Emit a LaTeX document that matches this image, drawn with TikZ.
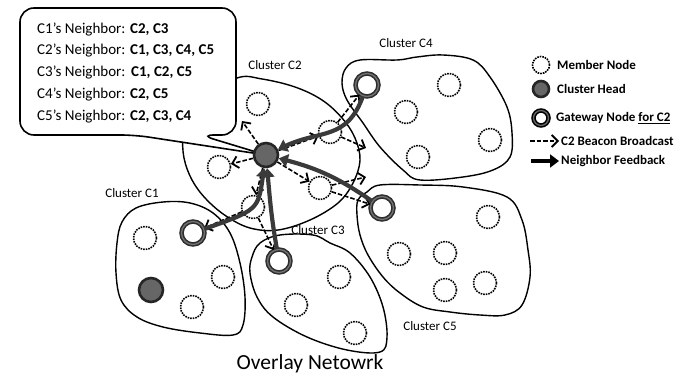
\documentclass[tikz,border=0pt]{standalone}
\usepackage{fontspec}
\setmainfont{Carlito}
\usetikzlibrary{arrows.meta}
\definecolor{fbgray}{HTML}{3A3A3A}
\definecolor{headgray}{HTML}{666666}
\tikzset{
  cluster/.style={draw,line width=1.4pt},
  callout/.style={draw,fill=white,line width=1.6pt,rounded corners=14pt},
  member/.style={circle,draw,line width=1.6pt,dash pattern=on 1.6pt off 1pt,
    minimum size=23pt,inner sep=0pt},
  head/.style={circle,draw=black!85,fill=headgray,line width=2.6pt,
    minimum size=24pt,inner sep=0pt},
  gateway/.style={circle,draw=black!82,double=black!55,line width=1.6pt,
    double distance=1.3pt,fill=white,minimum size=23pt,inner sep=0pt},
  beacon/.style={line width=1.6pt,dash pattern=on 4.5pt off 2pt,
    -{Straight Barb[length=6pt,width=12pt,line width=1.8pt]}},
  feedback/.style={draw=fbgray,line width=4.2pt,-{Triangle[length=9pt,width=13pt]}},
  clabel/.style={inner sep=0pt,font=\fontsize{13}{15}\selectfont},
  ntext/.style={anchor=west,inner sep=0pt,font=\fontsize{15}{18}\selectfont},
  nval/.style={anchor=west,inner sep=0pt,font=\fontsize{15}{18}\selectfont\bfseries},
  ltext/.style={anchor=west,inner sep=0pt,font=\fontsize{13}{15}\selectfont\bfseries}
}
\begin{document}
\begin{tikzpicture}[x=1pt,y=-1pt]
  \useasboundingbox (0,0) rectangle (682,379);
  %% cluster outlines
  \draw[cluster] plot[smooth cycle,tension=0.6] coordinates {(200,100) (237,78) (262,79)
    (295,87) (322,100) (342,118) (355,138) (360,160) (353,183) (338,203) (310,220)
    (278,230) (250,228) (226,216) (206,199) (192,180) (184,158) (183,135) (188,112)};
  \draw[cluster] plot[smooth cycle,tension=0.6] coordinates {(116,273) (117,243) (122,222)
    (136,208) (163,202) (190,203) (213,213) (230,233) (240,263) (245,297) (243,325)
    (233,335) (200,333) (163,327) (137,317) (121,300)};
  \draw[cluster] plot[smooth cycle,tension=0.6] coordinates {(252,257) (260,243) (280,235)
    (313,235) (330,243) (350,253) (370,277) (383,307) (387,337) (380,352) (347,350)
    (307,337) (273,317) (257,297) (250,273)};
  \draw[cluster] plot[smooth cycle,tension=0.6] coordinates {(342,83) (346,68) (360,60)
    (397,60) (417,57) (443,55) (473,60) (490,77) (507,107) (512,133) (510,157)
    (493,170) (463,177) (420,180) (403,170) (380,147) (363,123) (347,100)};
  \draw[cluster] plot[smooth cycle,tension=0.6] coordinates {(358,200) (367,192) (380,185)
    (420,185) (463,187) (507,197) (522,220) (528,250) (530,277) (522,305) (505,315)
    (480,315) (450,312) (423,307) (400,293) (383,277) (368,255) (360,235) (357,215)};
  \node[clabel] (l1) at (132,193) {Cluster C1};
  \node[clabel] (l2) at (275,65) {Cluster C2};
  \node[clabel] (l3) at (318,230) {Cluster C3};
  \node[clabel] (l4) at (406,43) {Cluster C4};
  \node[clabel] (l5) at (430,326) {Cluster C5};
  %% neighbor list
  \coordinate (h2c) at (266,155);
  \draw[callout] (128,8) -- (20,8) -- (20,135) -- (135,135) -- (h2c) -- (200,135)
    -- (236,135) -- (236,8) -- cycle;
  \node[ntext] (t1) at (37,30) {C1’s Neighbor:};
  \node[nval] (v1) at (130,30) {C2, C3};
  \node[ntext] (t2) at (37,51) {C2’s Neighbor:};
  \node[nval] (v2) at (130,51) {C1, C3, C4, C5};
  \node[ntext] (t3) at (37,73) {C3’s Neighbor:};
  \node[nval] (v3) at (131,73) {C1, C2, C5};
  \node[ntext] (t4) at (37,95) {C4’s Neighbor:};
  \node[nval] (v4) at (130,95) {C2, C5};
  \node[ntext] (t5) at (37,117) {C5’s Neighbor:};
  \node[nval] (v5) at (130,117) {C2, C3, C4};
  %% cluster C2
  \node[head] (h2) at (h2c) {};
  \node[member] (m21) at (258,104) {};
  \node[member] (m22) at (219,167) {};
  \node[member] (m23) at (330,132) {};
  \node[member] (m24) at (320,188) {};
  \node[member] (m25) at (253,207) {};
  %% cluster C1
  \node[head] (h1) at (151,290) {};
  \node[gateway] (g1) at (193,233) {};
  \node[member] (m11) at (145,238) {};
  \node[member] (m12) at (223,277) {};
  \node[member] (m13) at (192,307) {};
  %% cluster C3
  \node[gateway] (g3) at (279,261) {};
  \node[member] (m31) at (339,277) {};
  \node[member] (m32) at (296,305) {};
  \node[member] (m33) at (355,333) {};
  %% cluster C4
  \node[gateway] (g4) at (367,85) {};
  \node[member] (m41) at (449,85) {};
  \node[member] (m42) at (406,112) {};
  \node[member] (m43) at (490,140) {};
  \node[member] (m44) at (418,157) {};
  %% cluster C5
  \node[gateway] (g5) at (382,208) {};
  \node[member] (m51) at (488,217) {};
  \node[member] (m52) at (399,254) {};
  \node[member] (m53) at (445,253) {};
  \node[member] (m54) at (445,290) {};
  \node[member] (m55) at (485,283) {};
  %% beacon broadcast
  \coordinate (b1) at (242,121);
  \coordinate (b2) at (366,148);
  \coordinate (b3) at (366,177);
  \draw[beacon] (h2) -- (b1);
  \draw[beacon] (h2) -- (m22);
  \draw[beacon] (h2) -- (m25);
  \draw[beacon] (h2) -- (m23);
  \draw[beacon] (h2) -- (m24);
  \draw[beacon] (m25) -- (g1);
  \draw[beacon] (m25) -- (g3);
  \draw[beacon] (m23) -- (g4);
  \draw[beacon] (m23) -- (b2);
  \draw[beacon] (m24) -- (g5);
  \draw[beacon] (m24) -- (b3);
  %% neighbor feedback
  \draw[feedback] (g4) to[out=250,in=25,looseness=1.2] (h2);
  \draw[feedback] (g5) to[bend right=10] (h2);
  \draw[feedback] (g1) .. controls (258,210) .. (h2);
  \draw[feedback] (g3) to[out=100,in=275] (h2);
  %% legend
  \node[member,minimum size=17pt] (km) at (541,65) {};
  \node[ltext] (kmt) at (557,65) {Member Node};
  \node[head,minimum size=16pt] (kh) at (541,89) {};
  \node[ltext] (kht) at (557,89) {Cluster Head};
  \node[gateway,draw=black,double=black!60,minimum size=15pt] (kg) at (541,118) {};
  \node[ltext] (kgt) at (556,118) {Gateway Node \underline{for C2}};
  \coordinate (kb1) at (530,141);
  \coordinate (kb2) at (559,141);
  \draw[beacon] (kb1) -- (kb2);
  \node[ltext] (kbt) at (561,141) {C2 Beacon Broadcast};
  \coordinate (kf1) at (531,161);
  \coordinate (kf2) at (559,161);
  \draw[feedback,draw=black] (kf1) -- (kf2);
  \node[ltext] (kft) at (561,161) {Neighbor Feedback};
  %% title
  \node[inner sep=0pt,font=\fontsize{21.5}{24}\selectfont] (title) at (310,364) {Overlay Netowrk};
\end{tikzpicture}
\end{document}
